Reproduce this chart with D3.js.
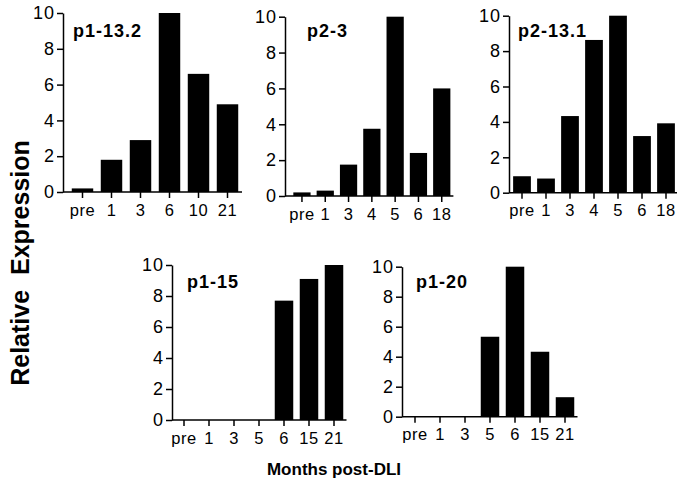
<!DOCTYPE html>
<html>
<head>
<meta charset="utf-8">
<script src="https://cdn.jsdelivr.net/npm/d3@7"></script>
<style>
    body { margin: 0; background: #fff; }
    svg { display: block; font-family: "Liberation Sans", Arial, Helvetica, sans-serif; }
    .axis path, .axis line { stroke: #000; stroke-width: 1.5; }
    .axis text { fill: #000; }
</style>
</head>
<body>
<div id="chart"></div>
<script>
// months post-DLI for each clone, and relative expression
const months1 = ['pre', '1', '3', '6', '10', '21'];
const months2 = ['pre', '1', '3', '4', '5', '6', '18'];
const months3 = ['pre', '1', '3', '5', '6', '15', '21'];

const p1_13_2 = [0.2, 1.8, 2.9, 10, 6.6, 4.9];
const p2_3 = [0.2, 0.3, 1.75, 3.75, 10, 2.4, 6.0];
const p2_13_1 = [0.93, 0.8, 4.33, 8.63, 10, 3.2, 3.92];
const p1_15 = [0, 0, 0, 0, 7.7, 9.1, 10];
const p1_20 = [0, 0, 0, 5.33, 10, 4.33, 1.3];

const yTicks = [0, 2, 4, 6, 8, 10];

const width = 677;
const height = 485;

const svg = d3.select('#chart')
    .append('svg')
    .attr('width', width)
    .attr('height', height);

// panel layout: axis x, y of 10, y of 0, band range
const panels = [
    { name: 'p1-13.2', cats: months1, vals: p1_13_2, ax: 63, top: 13, bottom: 192, r0: 68, r1: 242, tx: 73, ty: 37 },
    { name: 'p2-3', cats: months2, vals: p2_3, ax: 285, top: 16.7, bottom: 196, r0: 290.3, r1: 453.4, tx: 307, ty: 37 },
    { name: 'p2-13.1', cats: months2, vals: p2_13_1, ax: 509, top: 15.7, bottom: 192.7, r0: 510, r1: 678, tx: 518, ty: 37 },
    { name: 'p1-15', cats: months3, vals: p1_15, ax: 172, top: 265, bottom: 420, r0: 171.5, r1: 346.5, tx: 187, ty: 288 },
    { name: 'p1-20', cats: months3, vals: p1_20, ax: 402, top: 266.7, bottom: 416.7, r0: 402.5, r1: 577.5, tx: 416, ty: 288 }
];

panels.forEach(p => drawPanel(p));

function drawPanel(p) {
    const x = d3.scaleBand()
        .domain(p.cats)
        .range([p.r0, p.r1])
        .paddingInner(0.26)
        .paddingOuter(0.13);

    const y = d3.scaleLinear()
        .domain([0, 10])
        .range([p.bottom, p.top]);

    const g = svg.append('g');

    g.selectAll('rect')
        .data(p.vals)
        .enter()
        .append('rect')
        .attr('x', (d, i) => x(p.cats[i]))
        .attr('y', d => y(d))
        .attr('width', x.bandwidth())
        .attr('height', d => y(0) - y(d))
        .attr('fill', '#000');

    const yAxis = g.append('g')
        .attr('class', 'axis')
        .attr('transform', `translate(${p.ax},0)`)
        .call(d3.axisLeft(y).tickValues(yTicks).tickSize(6).tickSizeOuter(0).tickPadding(2));
    yAxis.selectAll('text')
        .attr('font-size', 18)
        .attr('letter-spacing', 1);

    const xAxis = g.append('g')
        .attr('class', 'axis')
        .attr('transform', `translate(0,${p.bottom})`)
        .call(d3.axisBottom(x).tickSize(6).tickSizeOuter(0).tickPadding(6));
    xAxis.select('.domain')
        .attr('d', `M${p.ax},0H${p.r1}`);
    xAxis.selectAll('text')
        .attr('font-size', 16.5)
        .attr('letter-spacing', 0.5);

    g.append('text')
        .attr('x', p.tx)
        .attr('y', p.ty)
        .attr('font-size', 18)
        .attr('font-weight', 'bold')
        .attr('letter-spacing', 1)
        .text(p.name);
}

svg.append('text')
    .attr('transform', 'translate(29,263) rotate(-90)')
    .attr('text-anchor', 'middle')
    .attr('font-size', 25)
    .attr('font-weight', 'bold')
    .attr('word-spacing', 8)
    .text('Relative Expression');

svg.append('text')
    .attr('x', 334)
    .attr('y', 475)
    .attr('text-anchor', 'middle')
    .attr('font-size', 17)
    .attr('font-weight', 'bold')
    .text('Months post-DLI');
</script>
</body>
</html>
